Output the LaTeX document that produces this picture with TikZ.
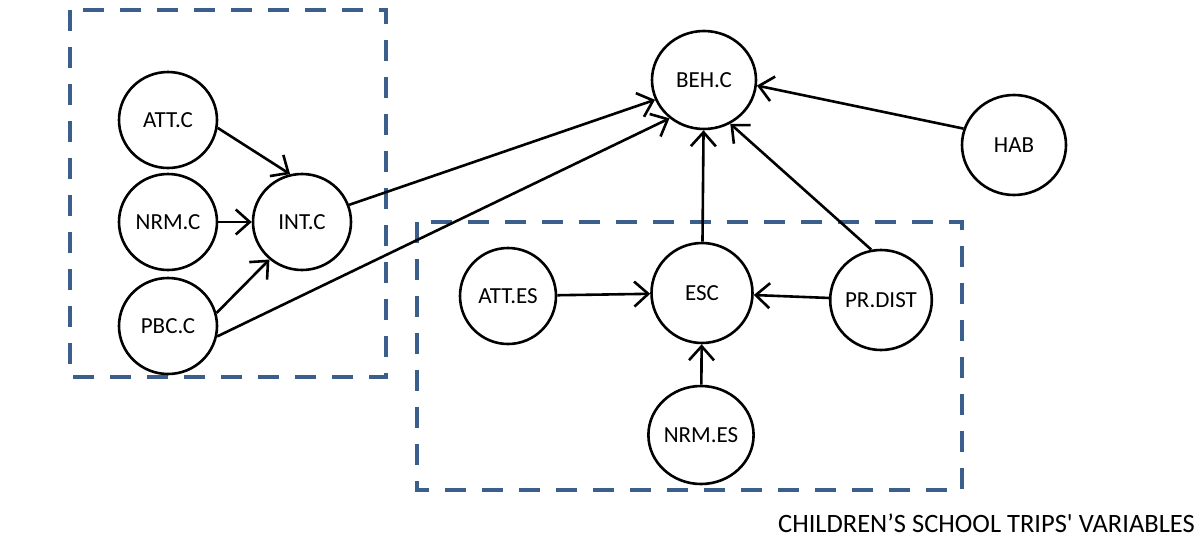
\documentclass[tikz,border=0pt]{standalone}
\usepackage{fontspec}
\setmainfont{Carlito}
\usetikzlibrary{shapes.geometric,arrows.meta}
\definecolor{boxblue}{HTML}{3B5E8C}
\begin{document}
\begin{tikzpicture}[x=1pt,y=-1pt,
  var/.style={draw,ellipse,line width=2.6pt,inner sep=0pt,font=\fontsize{23}{25}\selectfont},
  arr/.style={line width=2.6pt,-{Straight Barb[length=14pt,width=25pt,line width=2.6pt]}},
  grp/.style={draw=boxblue,line width=4pt,dash pattern=on 21pt off 16pt}]
\useasboundingbox (0,0) rectangle (1199,538);
% group boxes
\draw[grp] (70,10) rectangle (386,377);
\draw[grp] (417,222) rectangle (962,490);
% nodes
\node[var,minimum width=104pt,minimum height=98pt] (beh) at (704,80) {BEH.C};
\node[var,minimum width=104pt,minimum height=100pt] (hab) at (1014,145) {HAB};
\node[var,minimum width=98pt,minimum height=96pt] (attc) at (168,120) {ATT.C};
\node[var,minimum width=98pt,minimum height=96pt] (nrmc) at (168,222) {NRM.C};
\node[var,minimum width=98pt,minimum height=96pt] (intc) at (302,222) {INT.C};
\node[var,minimum width=98pt,minimum height=96pt] (pbcc) at (168,326) {PBC.C};
\node[var,minimum width=96pt,minimum height=96pt] (attes) at (508,296) {ATT.ES};
\node[var,minimum width=101pt,minimum height=100pt] (esc) at (702,293) {ESC};
\node[var,minimum width=97pt,minimum height=100pt] (prdist) at (881,300) {PR.DIST};
\node[var,minimum width=99pt,minimum height=98pt] (nrmes) at (701,435) {NRM.ES};
% label
\node[anchor=south east,inner sep=0pt,font=\fontsize{26.5}{28}\selectfont] (lbl) at (1195,533) {CHILDREN’S SCHOOL TRIPS\textquotesingle\ VARIABLES};
% connectors
\draw[arr] (attc.-9) -- (intc.104);
\draw[arr] (nrmc) -- (intc);
\draw[arr] (pbcc.15) -- (intc.-131);
\draw[arr] (intc.20) -- (beh.-158);
\draw[arr] (pbcc.-12) -- (beh.-132);
\draw[arr] (esc) -- (beh);
\draw[arr] (prdist.101) -- (beh.-59);
\draw[arr] (hab.162) -- (beh.-6);
\draw[arr] (attes) -- (esc);
\draw[arr] (prdist) -- (esc);
\draw[arr] (nrmes) -- (esc);
\end{tikzpicture}
\end{document}
